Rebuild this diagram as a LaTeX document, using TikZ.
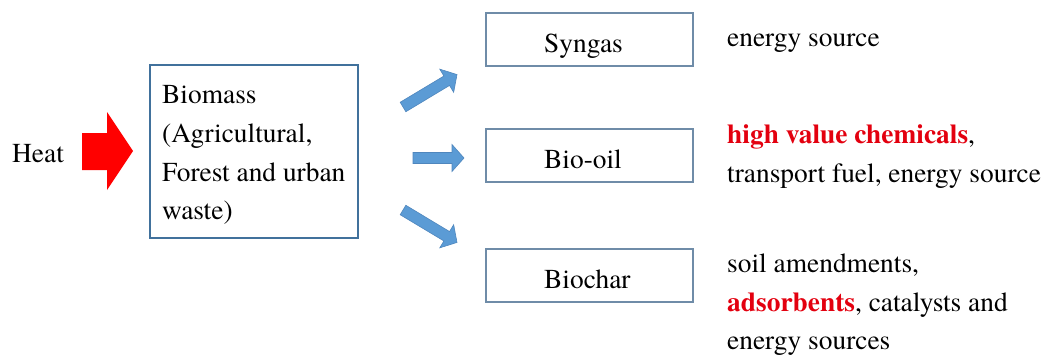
\documentclass[tikz,border=0pt]{standalone}
\usepackage{fontspec}
\setmainfont{texgyretermes}[Extension=.otf, UprightFont=*-regular, BoldFont=*-bold]
\definecolor{boxblue}{HTML}{41719C}
\definecolor{boxgray}{HTML}{6F8CA8}
\definecolor{arrblue}{HTML}{5B9BD5}
\definecolor{arrborder}{HTML}{4F86BD}
\definecolor{hired}{HTML}{E3000F}
\newcommand{\blockarr}[4]{%
  \begin{scope}[shift={(#1,#2)},rotate=#3]
    \filldraw[fill=arrblue,draw=arrborder,line width=0.6pt,line join=miter]
      (0,-5.5) -- ({#4-12},-5.5) -- ({#4-12},-13.5) -- (#4,0) --
      ({#4-12},13.5) -- ({#4-12},5.5) -- (0,5.5) -- cycle;
  \end{scope}}
\tikzset{
  txt/.style={font=\fontsize{27.4}{38.7}\selectfont, inner sep=0pt, anchor=base west},
  mainbox/.style={draw=boxblue, line width=1.6pt, minimum width=208pt, minimum height=173pt, inner sep=0pt},
  prodbox/.style={draw=boxgray, line width=1.5pt, minimum width=207pt, minimum height=53pt, inner sep=0pt},
}
\newcommand{\redbf}[1]{\textcolor{hired}{\textbf{#1}}}
\begin{document}
\begin{tikzpicture}[x=1pt,y=1pt]
\useasboundingbox (0,0) rectangle (1044,357);
% Heat
\node[txt] (heat) at (12,195) {Heat};
\fill[red] (82,187) -- (107,187) -- (107,167) -- (133,206) -- (107,245) -- (107,224) -- (82,224) -- cycle;
% Biomass box
\node[mainbox] (biomass) at (254,205.5) {};
\node[txt] (b1) at (162,254) {Biomass};
\node[txt] (b2) at (162,215) {(Agricultural,};
\node[txt] (b3) at (162,176) {Forest and urban};
\node[txt] (b4) at (162,138) {waste)};
% product boxes
\node[prodbox] (syngas) at (589.5,317.5) {};
\node[prodbox] (biooil) at (589.5,201.5) {};
\node[prodbox] (biochar) at (589.5,81.5) {};
\node[txt] (syngasl) at (544,305) {Syngas};
\node[txt] (biooill) at (544,189) {Bio-oil};
\node[txt] (biocharl) at (544,69) {Biochar};
% blue arrows
\blockarr{403}{250}{31}{63}
\blockarr{413}{199}{0}{51}
\blockarr{403}{147}{-31}{63}
% uses
\node[txt] (u1) at (727,310) {energy source};
\node[txt] (u2) at (727,214) {\redbf{high value chemicals},};
\node[txt] (u3) at (727,175) {transport fuel, energy source};
\node[txt] (u4) at (727,85) {soil amendments,};
\node[txt] (u5) at (727,46) {\redbf{adsorbents}, catalysts and};
\node[txt] (u6) at (727,8) {energy sources};
\end{tikzpicture}
\end{document}
